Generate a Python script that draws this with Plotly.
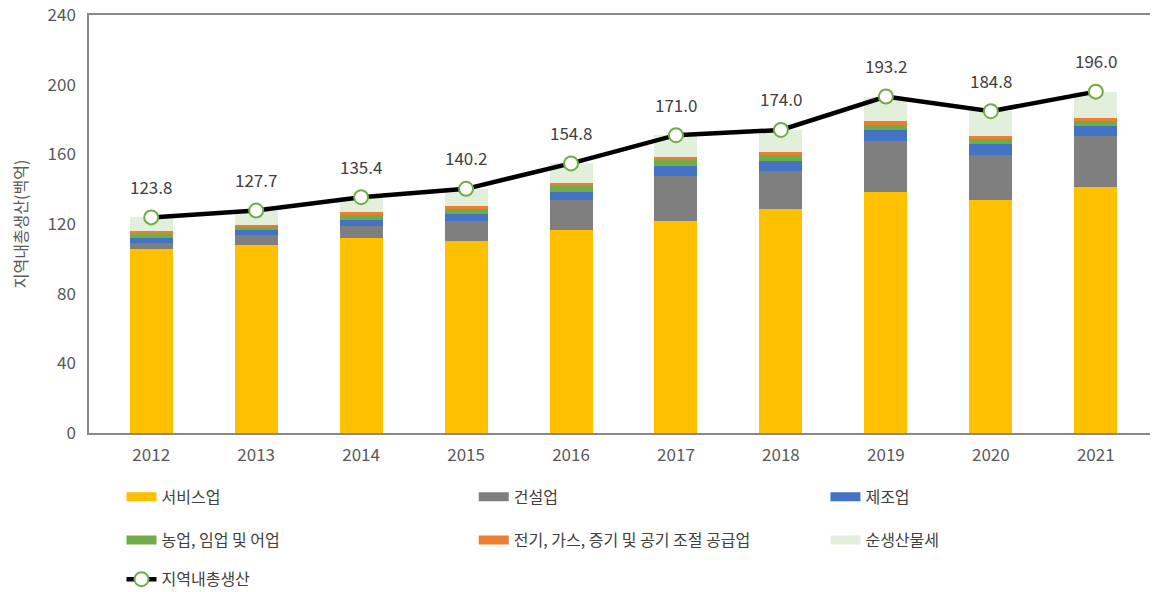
import plotly.graph_objects as go

years = ["2012", "2013", "2014", "2015", "2016", "2017", "2018", "2019", "2020", "2021"]
service = [105.9, 108.2, 111.7, 110.5, 116.3, 122.0, 128.9, 138.3, 133.7, 141.2]
construction = [3.1, 5.2, 7.3, 11.3, 17.4, 25.5, 21.5, 29.2, 25.9, 29.2]
manufacturing = [2.7, 2.9, 3.4, 3.8, 4.6, 5.8, 5.7, 6.7, 6.2, 5.9]
agriculture = [3.0, 2.3, 2.9, 2.9, 3.5, 3.2, 3.3, 2.9, 2.8, 3.1]
utilities = [1.0, 1.1, 1.7, 2.0, 1.7, 1.9, 1.9, 1.9, 1.8, 1.3]
net_tax = [8.1, 8.0, 8.4, 9.7, 11.3, 12.6, 12.7, 14.2, 14.4, 15.3]
grdp = [123.8, 127.7, 135.4, 140.2, 154.8, 171.0, 174.0, 193.2, 184.8, 196.0]

names = ["서비스업", "건설업", "제조업", "농업, 임업 및 어업", "전기, 가스, 증기 및 공기 조절 공급업", "순생산물세"]
series = [service, construction, manufacturing, agriculture, utilities, net_tax]
colors = ["#FFC000", "#7F7F7F", "#4472C4", "#70AD47", "#ED7D31", "#E2EFDA"]
line_name = "지역내총생산"

FONT = "Noto Sans CJK KR"

# legend slots: (column x in paper, row y in paper)
col_x = [0.0304, 0.3599, 0.6889]
row_y = [-0.153, -0.256, -0.35]
slots = [(col_x[0], row_y[0]), (col_x[1], row_y[0]), (col_x[2], row_y[0]),
         (col_x[0], row_y[1]), (col_x[1], row_y[1]), (col_x[2], row_y[1]),
         (col_x[0], row_y[2])]
legend_ids = ["legend"] + [f"legend{i}" for i in range(2, 8)]

fig = go.Figure()
for nm, vals, col in zip(names, series, colors):
    fig.add_trace(go.Bar(x=years, y=vals, name=nm, marker=dict(color=col, line=dict(width=0)),
                         showlegend=False))

fig.add_trace(go.Scatter(x=years, y=grdp, name=line_name, mode="lines+markers",
                         line=dict(color="black", width=4.5),
                         marker=dict(size=14, color="white", line=dict(color="#70AD47", width=2)),
                         legend=legend_ids[6]))

# legend entries (wide flat swatches)
for nm, col, lg in zip(names, colors, legend_ids[:6]):
    fig.add_trace(go.Scatter(x=[years[0]], y=[None], name=nm, mode="lines",
                             line=dict(color=col, width=9), legend=lg, hoverinfo="skip"))

for i, v in enumerate(grdp):
    fig.add_annotation(x=i, y=v, xref="x", yref="y", text=f"{v:.1f}", showarrow=False, yshift=31,
                       font=dict(family=FONT, size=17, color="#404040"))

legend_common = dict(orientation="h", xanchor="left", yanchor="middle",
                     font=dict(family=FONT, size=16, color="#404040"),
                     bgcolor="rgba(0,0,0,0)", itemwidth=30)

legends = {}
for lid, (lx, ly) in zip(legend_ids, slots):
    legends[lid] = dict(x=lx, y=ly, **legend_common)

# page body adds ~8px margin; figure sized to compensate
fig.update_layout(
    width=1150, height=584,
    margin=dict(l=81, r=0, t=7, b=159, autoexpand=False),
    paper_bgcolor="white", plot_bgcolor="white",
    barmode="stack", bargap=0.59,
    font=dict(family=FONT, size=17, color="#595959"),
    xaxis=dict(type="category", categoryorder="array", categoryarray=years,
               showline=True, linecolor="#888888", linewidth=1.5, mirror=True,
               ticks="", ticklabelstandoff=6,
               tickfont=dict(family=FONT, size=17, color="#595959"),
               showgrid=False),
    yaxis=dict(range=[0, 240], tickvals=[0, 40, 80, 120, 160, 200, 240], showgrid=False,
               showline=True, linecolor="#888888", linewidth=1.5, zeroline=False,
               ticks="", ticklabelstandoff=8, ticklabeloverflow="allow",
               tickfont=dict(family=FONT, size=17, color="#595959"),
               title=dict(text="지역내총생산(백억)", font=dict(family=FONT, size=16, color="#595959"),
                          standoff=16)),
    **legends,
)

fig.write_html("out.html")
